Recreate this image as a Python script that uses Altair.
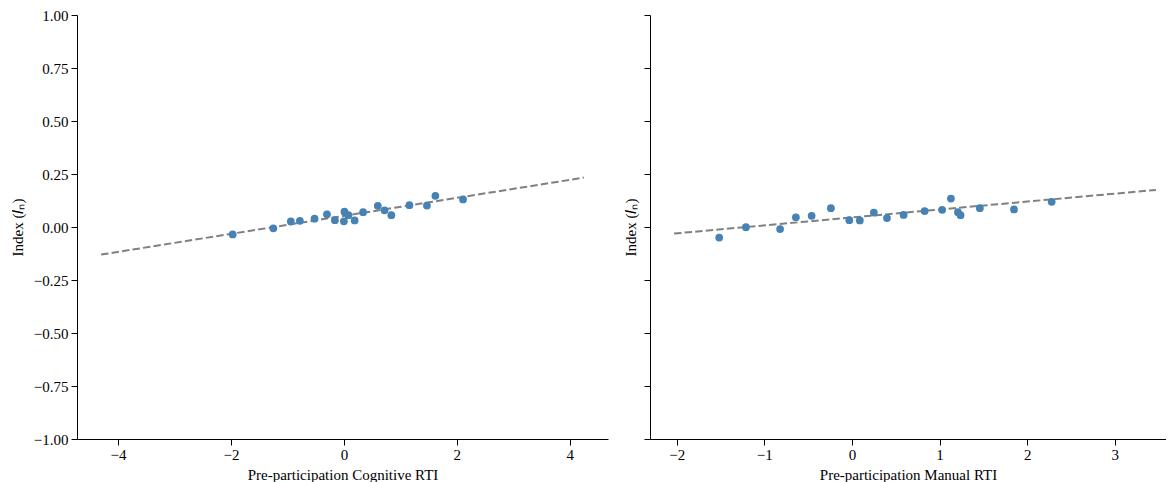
import altair as alt
import pandas as pd

# Left panel: Cognitive RTI
cog_x = [-1.97, -1.25, -0.94, -0.78, -0.52, -0.30, -0.16, 0.01, 0.08, 0.00,
         0.19, 0.34, 0.60, 0.72, 0.84, 1.16, 1.47, 1.62, 2.11]
cog_y = [-0.035, -0.006, 0.026, 0.029, 0.039, 0.060, 0.032, 0.072, 0.056, 0.027,
         0.031, 0.070, 0.100, 0.079, 0.056, 0.103, 0.101, 0.147, 0.130]
cog_fit_x = [-4.30, 4.25]
cog_fit_y = [-0.130, 0.233]

# Right panel: Manual RTI
man_x = [-1.515, -1.21, -0.82, -0.64, -0.46, -0.24, -0.03, 0.09, 0.25, 0.40,
         0.59, 0.83, 1.03, 1.13, 1.21, 1.24, 1.46, 1.85, 2.28]
man_y = [-0.050, -0.001, -0.010, 0.046, 0.053, 0.089, 0.032, 0.031, 0.068, 0.042,
         0.057, 0.075, 0.081, 0.134, 0.070, 0.056, 0.089, 0.083, 0.119]
man_fit_x = [-2.03, 3.47]
man_fit_y = [-0.031, 0.175]

y_ticks = [-1.0, -0.75, -0.5, -0.25, 0.0, 0.25, 0.5, 0.75, 1.0]
cog_ticks = [-4, -2, 0, 2, 4]
man_ticks = [-2, -1, 0, 1, 2, 3]

FONT = "Liberation Serif"
FS = 15
Y_TITLE = "Index (𝐼ₙ)"


def panel(xs, ys, fx, fy, xdom, xticks, xtitle, show_labels, width):
    pts = pd.DataFrame({"x": xs, "y": ys})
    fit = pd.DataFrame({"x": fx, "y": fy})
    xs_ = alt.Scale(domain=xdom, nice=False, zero=False)
    ys_ = alt.Scale(domain=[-1, 1], nice=False)
    xax = alt.Axis(values=xticks, title=xtitle, grid=False, format="d",
                   labelPadding=2, titlePadding=5)
    if show_labels:
        yax = alt.Axis(values=y_ticks, format=".2f", title=Y_TITLE, grid=False,
                       labelPadding=3, minExtent=44, maxExtent=44, titlePadding=8)
    else:
        yax = alt.Axis(values=y_ticks, labels=False, title=Y_TITLE, grid=False,
                       minExtent=6, maxExtent=6, titlePadding=6)
    line = alt.Chart(fit).mark_line(
        color="#808080", strokeWidth=2, strokeDash=[7.4, 3.2]
    ).encode(
        x=alt.X("x:Q", scale=xs_, axis=xax),
        y=alt.Y("y:Q", scale=ys_, axis=yax),
    )
    dots = alt.Chart(pts).mark_circle(
        color="#4682b4", opacity=1, size=60
    ).encode(
        x=alt.X("x:Q", scale=xs_, axis=xax),
        y=alt.Y("y:Q", scale=ys_, axis=yax),
    )
    return alt.layer(line, dots).properties(width=width, height=424)


left = panel(cog_x, cog_y, cog_fit_x, cog_fit_y, [-4.7275, 4.6775], cog_ticks,
             "Pre-participation Cognitive RTI", True, 531)
right = panel(man_x, man_y, man_fit_x, man_fit_y, [-2.305, 3.585], man_ticks,
              "Pre-participation Manual RTI", False, 516)

chart = alt.hconcat(left, right, spacing=15).properties(
    padding={"left": 2, "top": 0, "right": 0, "bottom": 0}
).configure_view(
    stroke=None
).configure_axis(
    labelFont=FONT, titleFont=FONT, labelFontSize=FS, titleFontSize=FS,
    titleFontWeight="normal", labelColor="black", titleColor="black",
    domainColor="black", tickColor="black", domainWidth=1, tickWidth=1,
    tickSize=6,
)

chart.save("out.html", embed_options={"renderer": "svg", "actions": False})
